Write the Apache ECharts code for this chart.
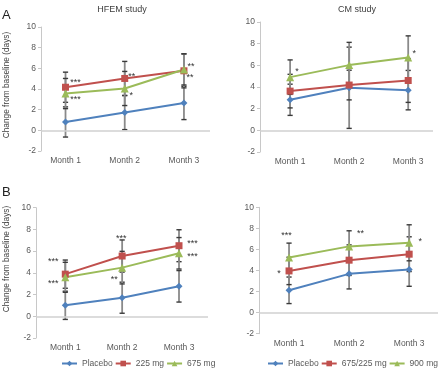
<!DOCTYPE html>
<html><head><meta charset="utf-8">
<script src="https://cdn.jsdelivr.net/npm/echarts@6/dist/echarts.min.js"></script>
<style>html,body{margin:0;padding:0;background:#fff}#c{width:440px;height:368px}</style>
</head><body><div id="c"></div>
<script>
// ---------- DATA ----------
const months = ['Month 1', 'Month 2', 'Month 3'];
const yMin = -2, yMax = 10, yStep = 2;

// Panel A – HFEM study
const aHfemPlacebo = [0.81, 1.72, 2.65];
const aHfemPlaceboErr = [1.46, 1.65, 1.61];
const aHfem225 = [4.17, 5.02, 5.76];
const aHfem225Err = [1.46, 1.65, 1.65];
const aHfem225Stars = ['***', '**', '**'];
const aHfem675 = [3.56, 4.05, 5.89];
const aHfem675Err = [1.46, 1.65, 1.5];
const aHfem675Stars = ['***', '*', '**'];

// Panel A – CM study
const aCmPlacebo = [2.82, 3.93, 3.71];
const aCmPlaceboErr = [1.44, 3.75, 1.82];
const aCm675225 = [3.62, 4.18, 4.6];
const aCm675225Err = [1.55, 1.37, 2.02];
const aCm900 = [4.91, 6.02, 6.72];
const aCm900Err = [1.59, 2.1, 2.0];
const aCm900Stars = ['*', '', '*'];

// Panel B – HFEM
const bHfemPlacebo = [1.01, 1.71, 2.76];
const bHfemPlaceboErr = [1.3, 1.43, 1.45];
const bHfem225 = [3.88, 5.55, 6.5];
const bHfem225Err = [1.3, 1.48, 1.47];
const bHfem225Stars = ['***', '***', '***'];
const bHfem675 = [3.59, 4.48, 5.8];
const bHfem675Err = [1.38, 1.5, 1.45];
const bHfem675Stars = ['***', '**', '***'];

// Panel B – CM
const bCmPlacebo = [2.12, 3.68, 4.1];
const bCmPlaceboErr = [1.26, 1.43, 1.6];
const bCm675225 = [3.96, 4.98, 5.55];
const bCm675225Err = [1.3, 1.45, 1.65];
const bCm675225Stars = ['*', '', ''];
const bCm900 = [5.24, 6.29, 6.63];
const bCm900Err = [1.36, 1.48, 1.71];
const bCm900Stars = ['***', '**', '*'];

const legendLeftNames = ['Placebo', '225 mg', '675 mg'];
const legendRightNames = ['Placebo', '675/225 mg', '900 mg'];

// ---------- STYLE / LAYOUT ----------
const FONT = "'Liberation Sans', Arial, sans-serif";
const BLUE = '#4F81BD', RED = '#C0504D', GREEN = '#9BBB59';
const styles = {
  placebo: {color: BLUE, symbol: 'diamond', size: 7},
  mid: {color: RED, symbol: 'rect', size: 7},
  high: {color: GREEN, symbol: 'triangle', size: 8}
};

const panels = [
  {grid: {left: 41, top: 27, width: 169, height: 124}, xMin: 0.586, xMax: 3.44,
   series: [
     {name: 'Placebo', st: 'placebo', v: aHfemPlacebo, e: aHfemPlaceboErr},
     {name: '225 mg', st: 'mid', v: aHfem225, e: aHfem225Err, stars: aHfem225Stars, off: [[10, -6.7], [7, -4.3], [7, -6.4]]},
     {name: '675 mg', st: 'high', v: aHfem675, e: aHfem675Err, stars: aHfem675Stars, off: [[10, 3.4], [6.5, 4.4], [6, 5.7]]}
   ]},
  {grid: {left: 260, top: 22, width: 173, height: 130}, xMin: 0.49, xMax: 3.42,
   series: [
     {name: 'Placebo', st: 'placebo', v: aCmPlacebo, e: aCmPlaceboErr},
     {name: '675/225 mg', st: 'mid', v: aCm675225, e: aCm675225Err},
     {name: '900 mg', st: 'high', v: aCm900, e: aCm900Err, stars: aCm900Stars, off: [[7, -8], [0, 0], [6, -6.4]]}
   ]},
  {grid: {left: 36, top: 207.7, width: 172, height: 130.3}, xMin: 0.485, xMax: 3.51,
   series: [
     {name: 'Placebo', st: 'placebo', v: bHfemPlacebo, e: bHfemPlaceboErr},
     {name: '225 mg', st: 'mid', v: bHfem225, e: bHfem225Err, stars: bHfem225Stars, off: [[-12, -14.7], [-1, -20], [13.5, -4.4]]},
     {name: '675 mg', st: 'high', v: bHfem675, e: bHfem675Err, stars: bHfem675Stars, off: [[-12, 4], [-8, 10], [13.5, 0.7]]}
   ]},
  {grid: {left: 259, top: 207.3, width: 179, height: 126.4}, xMin: 0.5, xMax: 3.48,
   series: [
     {name: 'Placebo', st: 'placebo', v: bCmPlacebo, e: bCmPlaceboErr},
     {name: '675/225 mg', st: 'mid', v: bCm675225, e: bCm675225Err, stars: bCm675225Stars, off: [[-10, 0], [0, 0], [0, 0]]},
     {name: '900 mg', st: 'high', v: bCm900, e: bCm900Err, stars: bCm900Stars, off: [[-2.5, -24.6], [11.5, -14.6], [11, -3]]}
   ]}
];

const grids = [], xAxes = [], yAxes = [], series = [];

panels.forEach((p, i) => {
  grids.push(p.grid);
  xAxes.push({
    type: 'value', gridIndex: i, min: p.xMin, max: p.xMax,
    axisLine: {show: false, onZero: false}, axisTick: {show: false}, splitLine: {show: false},
    axisLabel: {customValues: months.map((m, j) => j + 1), formatter: v => months[Math.round(v) - 1],
      color: '#595959', fontFamily: FONT, fontSize: 8.5, margin: 5}
  });
  yAxes.push({
    type: 'value', gridIndex: i, min: yMin, max: yMax, interval: yStep,
    axisLine: {show: true, lineStyle: {color: '#c8c8c8', width: 1}},
    axisTick: {show: true, length: 3, lineStyle: {color: '#c8c8c8'}},
    splitLine: {show: false},
    axisLabel: {color: '#595959', fontFamily: FONT, fontSize: 8.5, margin: 5}
  });
  // zero baseline
  series.push({
    type: 'line', xAxisIndex: i, yAxisIndex: i, data: [], z: 0, silent: true,
    markLine: {silent: true, symbol: 'none', label: {show: false}, animation: false,
      lineStyle: {color: '#d0d0d0', width: 1.5, type: 'solid'}, data: [{yAxis: 0}]}
  });
  // error bars
  p.series.forEach(s => {
    series.push({
      type: 'custom', xAxisIndex: i, yAxisIndex: i, z: 1, silent: true,
      encode: {x: 0, y: [1, 2]},
      data: s.v.map((v, j) => [j + 1, v - s.e[j], v + s.e[j]]),
      renderItem: (params, api) => {
        const x = api.value(0);
        const lo = api.coord([x, api.value(1)]);
        const hi = api.coord([x, api.value(2)]);
        const w = 2.6;
        return {type: 'group', children: [
          {type: 'line', shape: {x1: lo[0], y1: lo[1], x2: hi[0], y2: hi[1]}, style: {stroke: '#8a8a8a', lineWidth: 1.8}},
          {type: 'line', shape: {x1: lo[0] - w, y1: lo[1], x2: lo[0] + w, y2: lo[1]}, style: {stroke: '#3a3a3a', lineWidth: 1.4}},
          {type: 'line', shape: {x1: hi[0] - w, y1: hi[1], x2: hi[0] + w, y2: hi[1]}, style: {stroke: '#3a3a3a', lineWidth: 1.4}}
        ]};
      }
    });
  });
  // lines
  p.series.forEach(s => {
    const st = styles[s.st];
    series.push({
      name: s.name, type: 'line', xAxisIndex: i, yAxisIndex: i, z: 2,
      data: s.v.map((v, j) => [j + 1, v]),
      symbol: st.symbol, symbolSize: st.size, showAllSymbol: true,
      itemStyle: {color: st.color}, lineStyle: {color: st.color, width: 2},
      emphasis: {disabled: true}, animation: false
    });
  });
  // significance stars
  p.series.forEach(s => {
    if (!s.stars) return;
    series.push({
      type: 'custom', xAxisIndex: i, yAxisIndex: i, z: 3, silent: true,
      data: s.v.map((v, j) => [j + 1, v]),
      renderItem: (params, api) => {
        const j = params.dataIndex;
        const t = s.stars[j];
        if (!t) return null;
        const pt = api.coord([api.value(0), api.value(1)]);
        return {type: 'text', x: pt[0] + s.off[j][0], y: pt[1] + s.off[j][1] + 2.2,
          style: {text: t, fill: '#333', font: "9px 'Liberation Sans', sans-serif", align: 'center', verticalAlign: 'middle'}};
      }
    });
  });
});

const legendCommon = {
  orient: 'horizontal', itemWidth: 15, itemHeight: 7, itemGap: 2, top: 354, width: 200,
  textStyle: {color: '#595959', fontFamily: FONT, fontSize: 8.5}, selectedMode: false
};

const option = {
  animation: false,
  backgroundColor: '#fff',
  grid: grids, xAxis: xAxes, yAxis: yAxes, series: series,
  legend: [
    Object.assign({}, legendCommon, {left: 56, data: legendLeftNames}),
    Object.assign({}, legendCommon, {left: 262, data: legendRightNames})
  ],
  title: [
    {text: 'HFEM study', left: 117, top: 0, textAlign: 'center', textStyle: {color: '#404040', fontFamily: FONT, fontSize: 9, fontWeight: 'normal'}},
    {text: 'CM study', left: 352, top: 0, textAlign: 'center', textStyle: {color: '#404040', fontFamily: FONT, fontSize: 9, fontWeight: 'normal'}}
  ],
  graphic: [
    {type: 'text', x: 2, y: 9, style: {text: 'A', fill: '#222', font: "13px 'Liberation Sans', sans-serif"}},
    {type: 'text', x: 2, y: 186, style: {text: 'B', fill: '#222', font: "13px 'Liberation Sans', sans-serif"}},
    {type: 'text', x: 7, y: 85, rotation: Math.PI / 2,
     style: {text: 'Change from baseline (days)', fill: '#404040', font: "8.3px 'Liberation Sans', sans-serif", align: 'center', verticalAlign: 'middle'}},
    {type: 'text', x: 7, y: 259, rotation: Math.PI / 2,
     style: {text: 'Change from baseline (days)', fill: '#404040', font: "8.3px 'Liberation Sans', sans-serif", align: 'center', verticalAlign: 'middle'}}
  ]
};

const chart = echarts.init(document.getElementById('c'), null, {renderer: 'canvas'});
chart.setOption(option);
</script>
</body></html>
